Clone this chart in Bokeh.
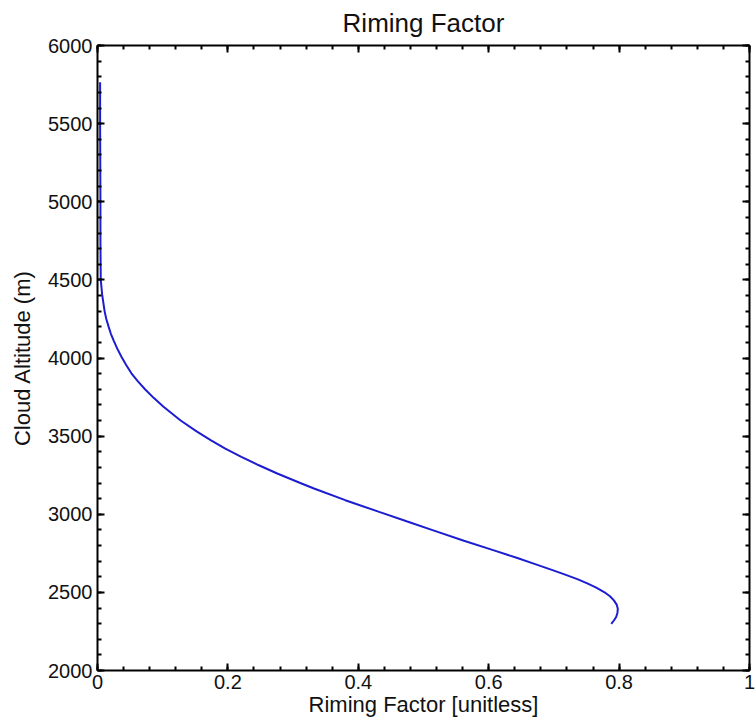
import numpy as np
from bokeh.plotting import figure
from bokeh.models import LinearAxis, FixedTicker, Range1d
from bokeh.embed import file_html
from bokeh.resources import INLINE

# Data
altitude = [5765, 5500, 5000, 4750, 4500, 4404, 4297, 4250, 4201, 4155, 4110, 4060,
            4008, 3955, 3902, 3850, 3800, 3745, 3690, 3600, 3530, 3474, 3420, 3367,
            3315, 3261, 3200, 3165, 3090, 3015, 2955, 2897, 2830, 2769, 2720, 2684,
            2641, 2620, 2585, 2556, 2530, 2502, 2475, 2449, 2420, 2395, 2370, 2342,
            2320, 2299]
riming = [0.004, 0.004, 0.0045, 0.0045, 0.005, 0.0072, 0.011, 0.0135, 0.017, 0.0205,
          0.025, 0.0303, 0.0367, 0.044, 0.052, 0.062, 0.0729, 0.0861, 0.1008, 0.1275,
          0.152, 0.1735, 0.196, 0.2206, 0.2466, 0.2757, 0.311, 0.332, 0.380, 0.432,
          0.474, 0.515, 0.562, 0.608, 0.644, 0.669, 0.699, 0.713, 0.736, 0.752,
          0.765, 0.777, 0.786, 0.792, 0.7965, 0.798, 0.7975, 0.7955, 0.792, 0.788]

x_ticks = [0, 0.2, 0.4, 0.6, 0.8, 1.0]
x_tick_labels = ["0", "0.2", "0.4", "0.6", "0.8", "1"]
y_ticks = [2000, 2500, 3000, 3500, 4000, 4500, 5000, 5500, 6000]
y_tick_labels = ["2000", "2500", "3000", "3500", "4000", "4500", "5000", "5500", "6000"]

FONT = "Liberation Sans"

p = figure(width=756, height=724, output_backend="svg", toolbar_location=None,
           x_range=Range1d(0, 1), y_range=Range1d(2000, 6000),
           title="Riming Factor", x_axis_label="Riming Factor [unitless]",
           y_axis_label="Cloud Altitude (m)")
p.min_border_left = 97
p.min_border_right = 7
p.min_border_top = 45
p.min_border_bottom = 54
p.outline_line_color = None
p.grid.visible = False
p.background_fill_color = "white"
p.border_fill_color = "white"

p.title.text_font = FONT
p.title.text_font_size = "26px"
p.title.text_font_style = "normal"
p.title.align = "center"
p.title.vertical_align = "top"
p.title.text_color = "#111111"
p.title.standoff = 12

bottom_ax = p.below[0]
left_ax = p.left[0]

x_minor = [float(v) for v in np.round(np.arange(0, 1.0001, 0.04), 4)]
y_minor = [float(v) for v in np.arange(2000, 6001, 100)]

top_ax = LinearAxis(ticker=FixedTicker(ticks=x_ticks, minor_ticks=x_minor))
right_ax = LinearAxis(ticker=FixedTicker(ticks=y_ticks, minor_ticks=y_minor))
p.add_layout(top_ax, "above")
p.add_layout(right_ax, "right")

bottom_ax.ticker = FixedTicker(ticks=x_ticks, minor_ticks=x_minor)
left_ax.ticker = FixedTicker(ticks=y_ticks, minor_ticks=y_minor)

for ax in [bottom_ax, left_ax, top_ax, right_ax]:
    ax.axis_line_color = "black"
    ax.axis_line_width = 2
    ax.major_tick_line_color = "black"
    ax.major_tick_line_width = 2
    ax.minor_tick_line_color = "black"
    ax.minor_tick_line_width = 2
    ax.major_tick_in = 7
    ax.major_tick_out = 0
    ax.minor_tick_in = 4
    ax.minor_tick_out = 0
    ax.major_label_text_font = FONT
    ax.major_label_text_font_size = "20px"
    ax.major_label_text_color = "#111111"
    ax.axis_label_text_font = FONT
    ax.axis_label_text_font_size = "22px"
    ax.axis_label_text_font_style = "normal"
    ax.axis_label_text_color = "#111111"

bottom_ax.major_label_overrides = dict(zip(x_ticks, x_tick_labels))
left_ax.major_label_overrides = dict(zip(y_ticks, y_tick_labels))
bottom_ax.major_label_standoff = 4
bottom_ax.axis_label_standoff = 0
left_ax.major_label_standoff = 5
left_ax.axis_label_standoff = 10

for ax in [top_ax, right_ax]:
    ax.major_label_text_color = None
    ax.major_label_standoff = 0

p.line(riming, altitude, line_color="#1c1cd0", line_width=2)

open("out.html", "w").write(file_html(p, INLINE))
